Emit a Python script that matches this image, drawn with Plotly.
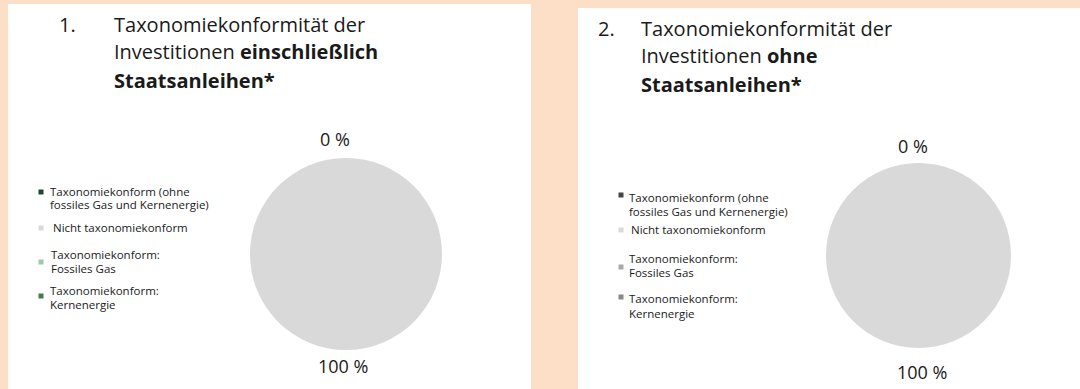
import plotly.graph_objects as go

W, H = 1080, 389

# Portfolio split by taxonomy alignment (percent)
categories = [
    "Taxonomiekonform (ohne fossiles Gas und Kernenergie)",
    "Nicht taxonomiekonform",
    "Taxonomiekonform: Fossiles Gas",
    "Taxonomiekonform: Kernenergie",
]
values_incl_sov = [0, 100, 0, 0]
values_excl_sov = [0, 100, 0, 0]

legend_lines = [
    ["Taxonomiekonform (ohne", "fossiles Gas und Kernenergie)"],
    ["Nicht taxonomiekonform"],
    ["Taxonomiekonform:", "Fossiles Gas"],
    ["Taxonomiekonform:", "Kernenergie"],
]

colors_left = ["#1d4a2c", "#d9d9d9", "#9cc9a9", "#3f7b53"]
colors_right = ["#444444", "#d9d9d9", "#aaaaaa", "#888888"]

PEACH = "#fddfc8"
PIE_GREY = "#d9d9d9"
FONT = "Open Sans"


def px(x):
    return x / W


def py(y):
    return 1 - y / H


def dom_x(a, b):
    return [px(a), px(b)]


def dom_y(top, bottom):
    return [py(bottom), py(top)]


fig = go.Figure()

fig.add_trace(go.Pie(
    labels=categories, values=values_incl_sov, sort=False, direction="clockwise",
    marker=dict(colors=colors_left, line=dict(width=0)),
    textinfo="none", showlegend=False,
    domain=dict(x=dom_x(250, 442), y=dom_y(158, 350)),
))
fig.add_trace(go.Pie(
    labels=categories, values=values_excl_sov, sort=False, direction="clockwise",
    marker=dict(colors=[colors_right[0], PIE_GREY, colors_right[2], colors_right[3]], line=dict(width=0)),
    textinfo="none", showlegend=False,
    domain=dict(x=dom_x(826, 1011), y=dom_y(163, 348)),
))

shapes = [
    dict(type="rect", xref="paper", yref="paper", x0=px(8), x1=px(531), y0=0, y1=py(4),
         fillcolor="white", line=dict(width=0), layer="below"),
    dict(type="rect", xref="paper", yref="paper", x0=px(578), x1=1, y0=0, y1=py(8),
         fillcolor="white", line=dict(width=0), layer="below"),
]

annotations = []


def text(x, y, s, size, anchor="left", color="#1a1a1a"):
    annotations.append(dict(
        x=px(x), y=py(y), xref="paper", yref="paper", text=s, showarrow=False,
        xanchor=anchor, yanchor="middle", font=dict(family=FONT, size=size, color=color),
    ))


# Panel titles
TS = 20
text(57, 25, "1.", TS)
text(112, 25, "Taxonomiekonformität der", TS)
text(112, 52, "Investitionen <b>einschließlich</b>", TS)
text(112, 80, "<b>Staatsanleihen*</b>", TS)

text(596, 29, "2.", TS)
text(639, 29, "Taxonomiekonformität der", TS)
text(639, 56, "Investitionen <b>ohne</b>", TS)
text(639, 84, "<b>Staatsanleihen*</b>", TS)

# Share labels above and below each pie
aligned_l = values_incl_sov[0] + values_incl_sov[2] + values_incl_sov[3]
aligned_r = values_excl_sov[0] + values_excl_sov[2] + values_excl_sov[3]
PS = 18
text(335, 139, f"{aligned_l} %", PS, "center")
text(343, 366, f"{values_incl_sov[1]} %", PS, "center")
text(913, 146, f"{aligned_r} %", PS, "center")
text(922, 372, f"{values_excl_sov[1]} %", PS, "center")

# Hand-built legends
LS = 11.5
left_rows = [(191, 204), (227,), (254, 268), (290, 304)]
left_marks = [192, 228, 262, 296]
left_x = [48, 51, 49, 48]
right_rows = [(197, 211), (229,), (258, 272), (298, 313)]
right_marks = [195, 230, 267, 297]
right_x = [627, 629, 627, 627]

for i, lines in enumerate(legend_lines):
    for ln, yy in zip(lines, left_rows[i]):
        text(left_x[i], yy, ln, LS)
    for ln, yy in zip(lines, right_rows[i]):
        text(right_x[i], yy, ln, LS)
    m = 2.5
    shapes.append(dict(type="rect", xref="paper", yref="paper",
                       x0=px(41 - m), x1=px(41 + m), y0=py(left_marks[i] + m), y1=py(left_marks[i] - m),
                       fillcolor=colors_left[i], line=dict(width=0)))
    shapes.append(dict(type="rect", xref="paper", yref="paper",
                       x0=px(621 - m), x1=px(621 + m), y0=py(right_marks[i] + m), y1=py(right_marks[i] - m),
                       fillcolor=colors_right[i], line=dict(width=0)))

fig.update_layout(
    width=W, height=H, margin=dict(l=0, r=0, t=0, b=0),
    paper_bgcolor=PEACH, plot_bgcolor=PEACH,
    shapes=shapes, annotations=annotations,
    font=dict(family=FONT),
)

fig.write_html("out.html")
